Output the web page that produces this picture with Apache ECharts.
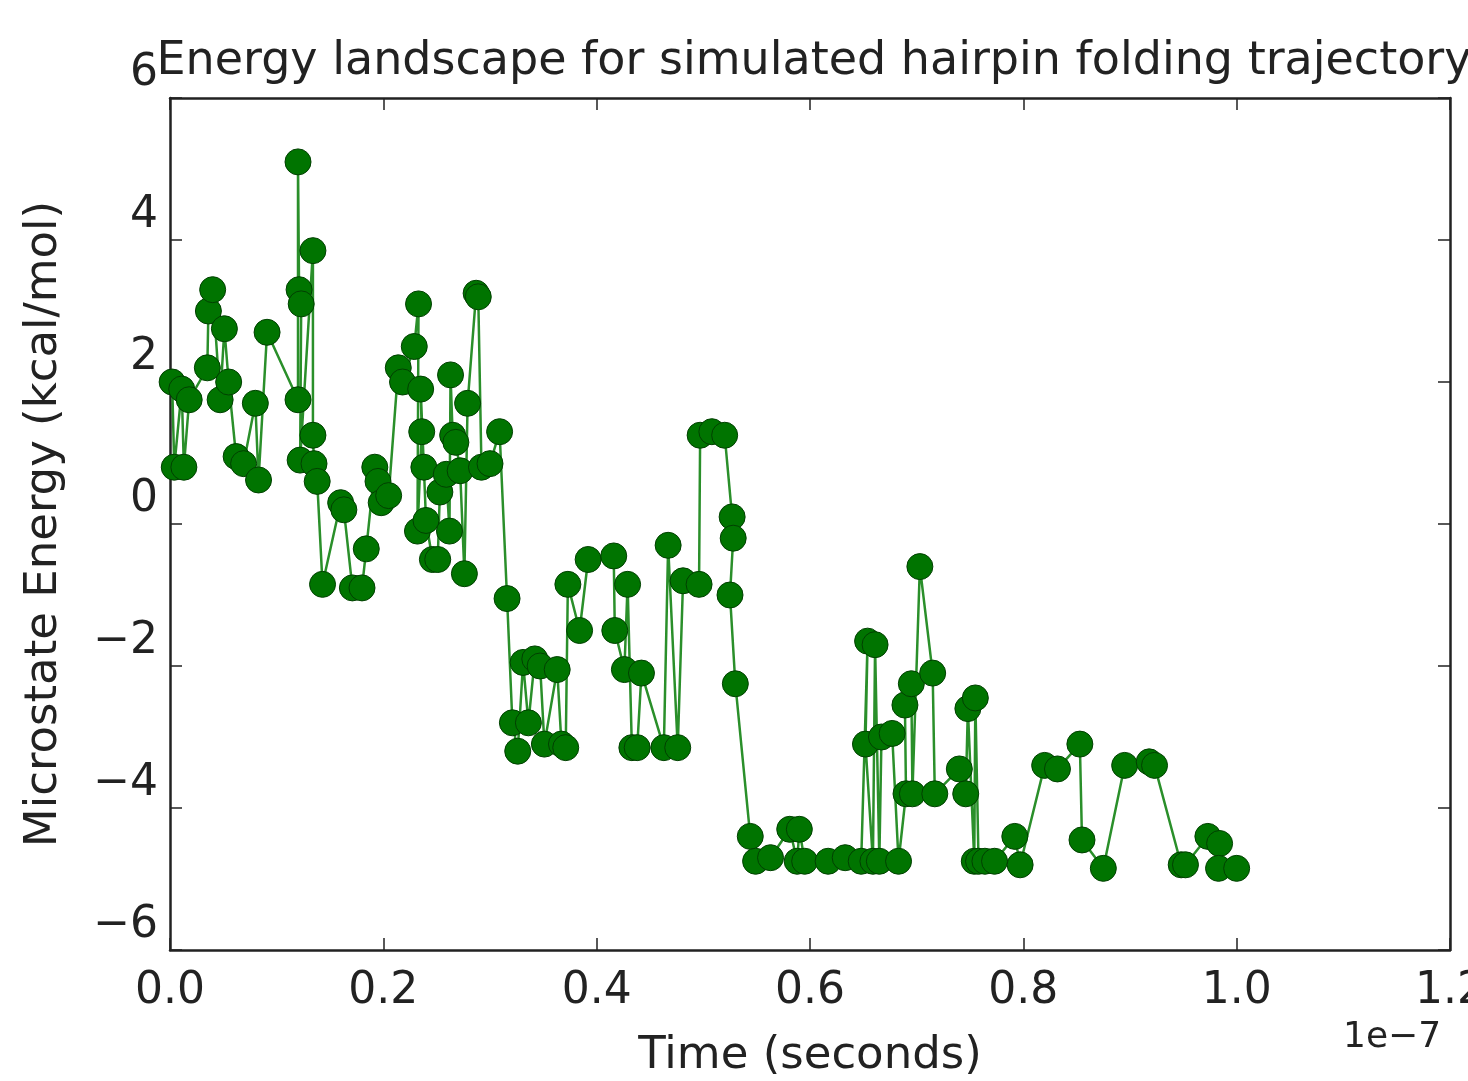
<!DOCTYPE html>
<html>
<head>
<meta charset="utf-8">
<script src="https://cdn.jsdelivr.net/npm/echarts@6/dist/echarts.min.js"></script>
<style>
  html, body { margin: 0; padding: 0; background: #fff; }
  #main { width: 1468px; height: 1081px; }
</style>
</head>
<body>
<div id="main"></div>
<script>
// time in units of 1e-7 s (axis offset shown as "1e-7")
var timeE7 = [
  0.002, 0.004, 0.011, 0.013, 0.018, 0.035, 0.036, 0.040, 0.047, 0.051,
  0.055, 0.062, 0.069, 0.080, 0.083, 0.091, 0.120, 0.120, 0.121, 0.123,
  0.122, 0.134, 0.134, 0.135, 0.138, 0.143, 0.160, 0.163, 0.171, 0.180,
  0.184, 0.192, 0.195, 0.198, 0.205, 0.214, 0.218, 0.229, 0.233, 0.232,
  0.236, 0.235, 0.238, 0.240, 0.246, 0.251, 0.253, 0.259, 0.262, 0.263,
  0.265, 0.268, 0.272, 0.276, 0.279, 0.287, 0.289, 0.292, 0.300, 0.309,
  0.316, 0.321, 0.326, 0.331, 0.336, 0.342, 0.347, 0.351, 0.363, 0.367,
  0.371, 0.373, 0.384, 0.392, 0.416, 0.417, 0.426, 0.429, 0.433, 0.438,
  0.442, 0.463, 0.467, 0.476, 0.481, 0.496, 0.497, 0.508, 0.520, 0.527,
  0.528, 0.525, 0.530, 0.544, 0.549, 0.563, 0.581, 0.588, 0.590, 0.595,
  0.617, 0.633, 0.648, 0.654, 0.652, 0.659, 0.661, 0.665, 0.667, 0.677,
  0.683, 0.690, 0.689, 0.695, 0.696, 0.703, 0.715, 0.717, 0.740, 0.746,
  0.748, 0.754, 0.755, 0.758, 0.764, 0.773, 0.792, 0.797, 0.820, 0.832,
  0.853, 0.855, 0.875, 0.895, 0.918, 0.923, 0.948, 0.952, 0.973, 0.984,
  0.983, 1.000
];
// microstate energy, kcal/mol
var energyKcal = [
  2.0, 0.8, 1.9, 0.8, 1.75, 2.2, 3.0, 3.3, 1.75, 2.75,
  2.0, 0.95, 0.85, 1.7, 0.62, 2.7, 1.75, 5.1, 3.3, 3.1,
  0.9, 3.85, 1.25, 0.85, 0.6, -0.85, 0.3, 0.2, -0.9, -0.9,
  -0.35, 0.8, 0.6, 0.3, 0.4, 2.2, 2.0, 2.5, 3.1, -0.1,
  1.3, 1.9, 0.8, 0.05, -0.5, -0.5, 0.45, 0.7, -0.1, 2.1,
  1.25, 1.15, 0.75, -0.7, 1.7, 3.25, 3.2, 0.8, 0.85, 1.3,
  -1.05, -2.8, -3.2, -1.95, -2.8, -1.9, -2.0, -3.1, -2.05, -3.1,
  -3.15, -0.85, -1.5, -0.5, -0.45, -1.5, -2.05, -0.85, -3.15, -3.15,
  -2.1, -3.15, -0.3, -3.15, -0.8, -0.85, 1.25, 1.3, 1.25, 0.1,
  -0.2, -1.0, -2.25, -4.4, -4.75, -4.7, -4.3, -4.75, -4.3, -4.75,
  -4.75, -4.7, -4.75, -1.65, -3.1, -4.75, -1.7, -4.75, -3.0, -2.95,
  -4.75, -3.8, -2.55, -2.25, -3.8, -0.6, -2.1, -3.8, -3.45, -3.8,
  -2.6, -4.75, -2.45, -4.75, -4.75, -4.75, -4.4, -4.8, -3.4, -3.45,
  -3.1, -4.45, -4.85, -3.4, -3.35, -3.4, -4.8, -4.8, -4.4, -4.5,
  -4.85, -4.85
];
var xTicks = [0.0, 0.2, 0.4, 0.6, 0.8, 1.0, 1.2];
var yTicks = [-6, -4, -2, 0, 2, 4, 6];

function init_energy_chart(container) {
  var chartDom = document.getElementById(container);
  var myChart = echarts.init(chartDom);
  var font = "DejaVu Sans";
  var frame = "#222";

  var points = timeE7.map(function (t, i) {
    return [t, energyKcal[i]];
  });

  var tickStyle = { inside: true, length: 12, lineStyle: { color: frame, width: 1.5 } };
  var lineStyle = { onZero: false, lineStyle: { color: frame, width: 2.5 } };

  var option = {
    backgroundColor: "#fff",
    animation: false,
    title: {
      text: "Energy landscape for simulated hairpin folding trajectory",
      left: 809,
      textAlign: "center",
      top: 34,
      textStyle: {
        fontFamily: font,
        fontWeight: "normal",
        fontSize: 46,
        color: "#222",
      },
    },
    grid: {
      left: 170,
      right: 18,
      top: 98,
      bottom: 131,
      containLabel: false,
      outerBoundsMode: "none",
    },
    xAxis: [
      {
        type: "value",
        min: xTicks[0],
        max: xTicks[xTicks.length - 1],
        interval: 0.2,
        name: "Time (seconds)",
        nameLocation: "middle",
        nameGap: 84,
        nameTextStyle: { fontFamily: font, fontSize: 45, color: "#222" },
        axisLine: lineStyle,
        axisTick: tickStyle,
        splitLine: { show: false },
        axisLabel: {
          margin: 20,
          fontFamily: font,
          fontSize: 44,
          color: "#222",
          formatter: function (v) {
            return v.toFixed(1);
          },
        },
      },
      {
        type: "value",
        position: "top",
        min: xTicks[0],
        max: xTicks[xTicks.length - 1],
        interval: 0.2,
        axisLine: lineStyle,
        axisTick: tickStyle,
        axisLabel: { show: false },
        splitLine: { show: false },
      },
    ],
    yAxis: [
      {
        type: "value",
        min: yTicks[0],
        max: yTicks[yTicks.length - 1],
        interval: 2,
        name: "Microstate Energy (kcal/mol)",
        nameLocation: "middle",
        nameGap: 103,
        nameTextStyle: { fontFamily: font, fontSize: 45, color: "#222" },
        axisLine: lineStyle,
        axisTick: tickStyle,
        splitLine: { show: false },
        axisLabel: {
          margin: 12,
          fontFamily: font,
          fontSize: 44,
          color: "#222",
          verticalAlign: "bottom",
          lineHeight: 48,
          formatter: function (v) {
            return String(v).replace("-", "\u2212");
          },
        },
      },
      {
        type: "value",
        position: "right",
        min: yTicks[0],
        max: yTicks[yTicks.length - 1],
        interval: 2,
        axisLine: lineStyle,
        axisTick: tickStyle,
        axisLabel: { show: false },
        splitLine: { show: false },
      },
    ],
    graphic: [
      {
        type: "text",
        left: 1343,
        top: 1020,
        style: {
          text: "1e\u22127",
          fontFamily: font,
          fontSize: 36,
          fill: "#222",
        },
      },
    ],
    series: [
      {
        type: "line",
        xAxisIndex: 0,
        yAxisIndex: 0,
        data: points,
        symbol: "circle",
        symbolSize: 26,
        lineStyle: { color: "#2a8f2a", width: 2.5 },
        itemStyle: {
          color: "#007400",
          borderColor: "#004000",
          borderWidth: 1,
        },
        z: 3,
      },
    ],
  };

  option && myChart.setOption(option);
  window.addEventListener("resize", function () {
    myChart.resize();
  });
}

init_energy_chart("main");
</script>
</body>
</html>
